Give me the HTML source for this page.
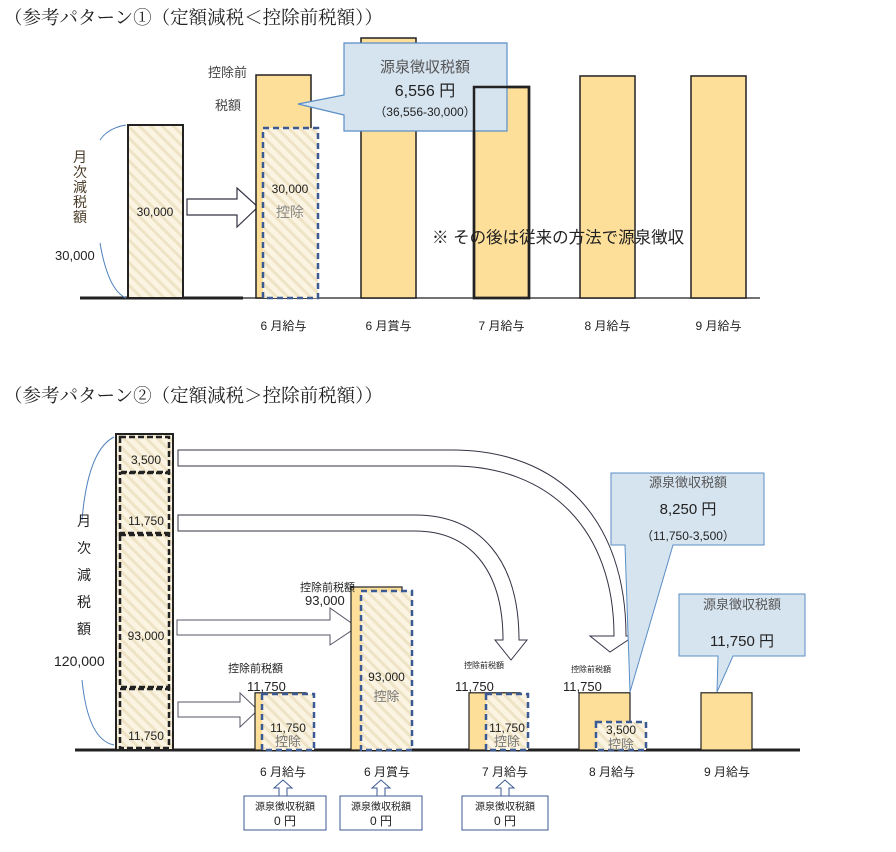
<!DOCTYPE html>
<html><head><meta charset="utf-8">
<style>
body{margin:0;background:#fff;}
svg{display:block;font-family:"Liberation Sans","Noto Sans CJK JP",sans-serif;}
.ttl{font-family:"Liberation Serif","Noto Serif CJK SC",serif;}
</style></head>
<body>
<svg id="chart" width="896" height="852" viewBox="0 0 896 852" xmlns="http://www.w3.org/2000/svg">
<defs>
<pattern id="hatch" patternUnits="userSpaceOnUse" width="8" height="8" patternTransform="rotate(-45)">
<rect width="8" height="8" fill="#fbf4e2"/>
<rect width="3" height="8" fill="#efe3c6"/>
</pattern>
</defs>

<text class="ttl" x="4" y="24" font-size="18.5" fill="#222">（参考パターン①（定額減税＜控除前税額））</text>
<g id="p1"></g>
<text class="ttl" x="4" y="402" font-size="18.5" fill="#222">（参考パターン②（定額減税＞控除前税額））</text>
<g id="p2"></g>

<script>
// ---- data ----
const months1 = ["6 月給与","6 月賞与","7 月給与","8 月給与","9 月給与"];
const preTax1 = [38670, 60000, 36590, 38500, 38500];
const reduction1 = 30000;
const months2 = ["6 月給与","6 月賞与","7 月給与","8 月給与","9 月給与"];
const preTax2 = [11750, 93000, 11750, 11750, 11750];
const deduct2 = [11750, 93000, 11750, 3500, 0];
const segments2 = [11750, 93000, 11750, 3500];

const NS="http://www.w3.org/2000/svg";
function mk(parent,tag,attrs){const e=document.createElementNS(NS,tag);for(const k in attrs)e.setAttribute(k,attrs[k]);parent.appendChild(e);return e;}
function txt(parent,x,y,s,size,fill,anchor){const t=mk(parent,"text",{x:x,y:y,"font-size":size,fill:fill||"#222","text-anchor":anchor||"start"});t.textContent=s;return t;}

// ---------- Pattern 1 ----------
const g1=document.getElementById("p1");
const base1=298, scale1=173/30000;
const y1=v=>base1-v*scale1;
const xs1=[256,361,474,580,691], w1=55;
let e;
e=mk(g1,"line",{x1:80,y1:base1,x2:243,y2:base1,stroke:"#222","stroke-width":3});


e=mk(g1,"line",{x1:243,y1:base1,x2:760,y2:base1,stroke:"#444","stroke-width":1.5});


e=mk(g1,"rect",{x:128,y:y1(reduction1),width:55,height:reduction1*scale1,fill:"url(#hatch)",stroke:"#222","stroke-width":2});


txt(g1,155,216,"30,000",12,"#222","middle");
e=mk(g1,"path",{d:"M126,125 Q108,128 100,140 M100,243 Q108,290 126,298",fill:"none",stroke:"#4f81bd","stroke-width":1});


["月","次","減","税","額"].forEach((c,i)=>txt(g1,80,162+i*15,c,14,"#4a3c28","middle"));
txt(g1,55,260,"30,000",13,"#222");
e=mk(g1,"path",{d:"M187,199 H237 V188 L258,207 L237,227 V215 H187 Z",fill:"#fff",stroke:"#334","stroke-width":1.2});


preTax1.forEach((v,i)=>{
  const top = Math.max(38, y1(v));
  const b=mk(g1,"rect",{x:xs1[i],y:top,width:w1,height:base1-top,fill:"#fddf9a",stroke:"#222","stroke-width":i===2?2.5:1.5});
  
  
  txt(g1,xs1[i]+w1/2,330,months1[i],12,"#222","middle");
});
e=mk(g1,"rect",{x:263,y:y1(reduction1)+3,width:55,height:reduction1*scale1-3,fill:"url(#hatch)",stroke:"#3b5a94","stroke-width":2.5,"stroke-dasharray":"6 4"});


txt(g1,290,193,"30,000",12,"#222","middle");
txt(g1,290,217,"控除",14,"#888","middle");
txt(g1,208,77,"控除前",13,"#444");
txt(g1,215,110,"税額",13,"#444");
e=mk(g1,"path",{d:"M344,43 H507 V131 H344 V115 L298,104 L344,95 Z",fill:"#d6e4f0",stroke:"#5b8ec5","stroke-width":1.2});


// July bar outline drawn over callout
e=mk(g1,"rect",{x:xs1[2],y:y1(preTax1[2]),width:w1,height:base1-y1(preTax1[2]),fill:"none",stroke:"#222","stroke-width":2.5});


txt(g1,425,72,"源泉徴収税額",15,"#555","middle");
txt(g1,425,96,"6,556 円",16,"#222","middle");
txt(g1,425,116,"（36,556-30,000）",12,"#222","middle");
txt(g1,432,243,"※ その後は従来の方法で源泉徴収",16.5,"#222");

// ---------- Pattern 2 ----------
const g2=document.getElementById("p2");
const base2=750, scale2=152/93000;
const y2=v=>base2-v*scale2;
const xs2=[255,351,469,579,701], w2=51;
e=mk(g2,"line",{x1:75,y1:base2,x2:800,y2:base2,stroke:"#222","stroke-width":3});


e=mk(g2,"rect",{x:116,y:434,width:57,height:316,fill:"url(#hatch)",stroke:"#222","stroke-width":2});


const segB=[[689,748],[535,687],[473,533],[437,472]];
const segLbl=["11,750","93,000","11,750","3,500"];
segments2.forEach((v,i)=>{
  const s=mk(g2,"rect",{x:120,y:segB[i][0],width:49,height:segB[i][1]-segB[i][0],fill:"none",stroke:"#222","stroke-width":2.5,"stroke-dasharray":"6 3"});
  
  
  txt(g2,146,segB[i][1]-(i===1?47:8),segLbl[i],12,"#222","middle");
});
e=mk(g2,"path",{d:"M114,437 Q88,450 82,520 M82,680 Q88,740 114,745",fill:"none",stroke:"#4f81bd","stroke-width":1});


["月","次","減","税","額"].forEach((c,i)=>txt(g2,84,526+i*27,c,14,"#222","middle"));
txt(g2,54,666,"120,000",14,"#222");
e=mk(g2,"path",{d:"M178,702 H240 V693 L258,710 L240,727 V717 H178 Z",fill:"#fff",stroke:"#556","stroke-width":1});


e=mk(g2,"path",{d:"M177,620 H330 V608 L357,627 L330,645 V635 H177 Z",fill:"#fff",stroke:"#556","stroke-width":1});


e=mk(g2,"path",{d:"M178,450 H452 C560,450 626,520 626,636 H634 L610,652 L590,636 H614 C614,530 550,466 452,466 H178 Z",fill:"#fff",stroke:"#334","stroke-width":1});


e=mk(g2,"path",{d:"M178,515 H415 C480,515 519,560 519,640 H527 L511,660 L495,640 H503 C503,570 470,531 415,531 H178 Z",fill:"#fff",stroke:"#334","stroke-width":1});


const pretaxLblY=[[228,672,11],[300,591,11],[464,668,8],[571,672,8]];
preTax2.forEach((v,i)=>{
  const top=y2(v)-(i===1?11:38);
  const b=mk(g2,"rect",{x:xs2[i],y:top,width:w2,height:base2-top,fill:"#fddf9a",stroke:"#222","stroke-width":1.2});
  
  
  txt(g2,[283,387,505,612,727][i],776,months2[i],12,"#222","middle");
  if(i<4){
    txt(g2,pretaxLblY[i][0],pretaxLblY[i][1],"控除前税額",pretaxLblY[i][2],"#222");
    txt(g2,[247,305,455,563][i],i===1?605:691,v.toLocaleString("en-US"),13,"#222");
  }
});
const dX=[262,361,486,596], dW=[52,51,42,50];
deduct2.forEach((v,i)=>{
  if(!v)return;
  const top=i===3?722:(i===1?591:694);
  const d=mk(g2,"rect",{x:dX[i],y:top,width:dW[i],height:base2-top,fill:"url(#hatch)",stroke:"#3b5a94","stroke-width":2.5,"stroke-dasharray":"6 4"});
  
  
  const cx=dX[i]+dW[i]/2;
  txt(g2,cx,top+(i===1?90:(i===3?12:38)),v.toLocaleString("en-US"),12,"#222","middle");
  txt(g2,cx,top+(i===1?110:(i===3?27:52)),"控除",13,"#777","middle");
});
e=mk(g2,"path",{d:"M611,473 H764 V545 H673 L630,692 L625,545 H611 Z",fill:"#d6e4f0",stroke:"#5b8ec5","stroke-width":1});


txt(g2,688,487,"源泉徴収税額",13,"#555","middle");
txt(g2,688,514,"8,250 円",15,"#222","middle");
txt(g2,688,540,"（11,750-3,500）",12,"#222","middle");
e=mk(g2,"path",{d:"M679,594 H805 V656 H733 L717,692 L718,656 H679 Z",fill:"#d6e4f0",stroke:"#5b8ec5","stroke-width":1});


txt(g2,742,609,"源泉徴収税額",13,"#555","middle");
txt(g2,742,646,"11,750 円",15,"#222","middle");
[[244,283],[340,381],[462,505]].forEach((p,i)=>{
  const a=mk(g2,"path",{d:`M${p[1]-4},796 V788 H${p[1]-9} L${p[1]},780 L${p[1]+9},788 H${p[1]+4} V796`,fill:"#fff",stroke:"#3b5a94","stroke-width":1});
  
  
  const b=mk(g2,"rect",{x:p[0],y:796,width:i===2?86:82,height:34,fill:"#fff",stroke:"#3b5a94","stroke-width":1});
  
  
  txt(g2,p[0]+(i===2?43:41),810,"源泉徴収税額",10,"#222","middle");
  txt(g2,p[0]+(i===2?43:41),825,"0 円",12,"#222","middle");
});
</script>
</svg>
</body></html>
